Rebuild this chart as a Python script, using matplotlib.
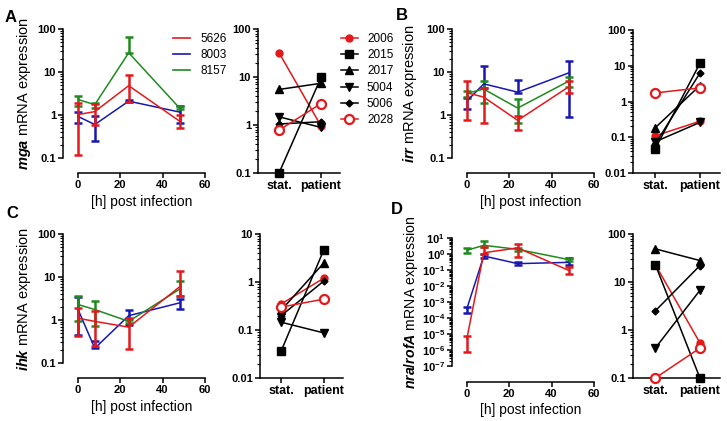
import numpy as np
import matplotlib
matplotlib.use("Agg")
from matplotlib import pyplot as plt
from matplotlib.ticker import LogLocator, FuncFormatter, NullFormatter
from matplotlib.lines import Line2D

plt.rcParams['font.family'] = ['Liberation Sans', 'DejaVu Sans']
plt.rcParams['font.weight'] = 'bold'
plt.rcParams['mathtext.fontset'] = 'custom'
plt.rcParams['mathtext.it'] = 'Liberation Sans:italic'
plt.rcParams['mathtext.rm'] = 'Liberation Sans'
plt.rcParams['mathtext.bf'] = 'Liberation Sans:bold'

# time course data (mean, lower end, upper end of error bar)
hours = [0, 8, 24, 48]
strains = ['5626', '8003', '8157']

mga_5626 = [1.02, 1.2, 4.8, 0.72]
mga_5626_lo = [0.12, 0.6, 2.0, 0.5]
mga_5626_hi = [1.9, 1.8, 8.7, 1.0]
mga_8003 = [0.93, 0.6, 2.1, 1.17]
mga_8003_lo = [0.65, 0.245, 2.0, 0.64]
mga_8003_hi = [1.15, 0.93, 2.2, 1.6]
mga_8157 = [2.3, 1.74, 28, 1.45]
mga_8157_lo = [1.6, 1.45, 27, 1.35]
mga_8157_hi = [2.8, 1.9, 65, 1.6]

irr_5626 = [3.3, 2.6, 0.75, 4.5]
irr_5626_lo = [0.78, 0.65, 0.46, 3.3]
irr_5626_hi = [6.3, 4.2, 0.93, 6.1]
irr_8003 = [2.1, 5.3, 3.4, 9.5]
irr_8003_lo = [1.4, 4.2, 3.3, 0.88]
irr_8003_hi = [2.5, 14, 6.6, 18]
irr_8157 = [3.2, 4.0, 1.45, 6.1]
irr_8157_lo = [2.6, 1.9, 0.65, 4.6]
irr_8157_hi = [3.6, 6.1, 2.4, 7.7]

ihk_5626 = [1.1, 0.93, 0.68, 5.9]
ihk_5626_lo = [0.42, 0.25, 0.21, 3.6]
ihk_5626_hi = [1.9, 1.6, 1.1, 13.5]
ihk_8003 = [1.8, 0.22, 1.26, 2.5]
ihk_8003_lo = [0.46, 0.22, 0.78, 1.8]
ihk_8003_hi = [3.5, 0.32, 1.75, 3.1]
ihk_8157 = [2.3, 1.75, 0.93, 5.2]
ihk_8157_lo = [0.93, 0.72, 0.85, 3.6]
ihk_8157_hi = [3.7, 2.7, 1.0, 7.9]

nra_5626 = [5e-6, 1.2, 2.4, 0.095]
nra_5626_lo = [8e-7, 1.0, 0.65, 0.055]
nra_5626_hi = [7e-6, 2.7, 4.4, 0.15]
nra_8003 = [3.8e-4, 0.75, 0.25, 0.3]
nra_8003_lo = [2e-4, 0.6, 0.21, 0.22]
nra_8003_hi = [5e-4, 1.0, 0.3, 0.6]
nra_8157 = [1.7, 3.5, 1.95, 0.45]
nra_8157_lo = [1.2, 2.7, 1.5, 0.35]
nra_8157_hi = [2.5, 6.5, 2.5, 0.6]

# isolates: stat. vs patient
conditions = ['stat.', 'patient']
isolates = ['2006', '2015', '2017', '5004', '5006', '2028']
mga_iso = {'2006': [32, 0.95], '2015': [0.1, 9.8], '2017': [5.5, 7.4],
           '5004': [1.48, 0.89], '5006': [1.05, 1.17], '2028': [0.78, 2.8]}
irr_iso = {'2006': [0.11, 0.28], '2015': [0.048, 11.7], '2017': [0.185, 2.8],
           '5004': [0.075, 0.26], '5006': [0.066, 6.2], '2028': [1.74, 2.4]}
ihk_iso = {'2006': [0.35, 1.2], '2015': [0.037, 4.7], '2017': [0.26, 2.5],
           '5004': [0.145, 0.087], '5006': [0.2, 1.05], '2028': [0.3, 0.44]}
nra_iso = {'2006': [23, 0.54], '2015': [23, 0.1], '2017': [49, 28],
           '5004': [0.42, 6.7], '5006': [2.5, 22], '2028': [0.1, 0.42]}

RED = '#e3191c'
BLUE = '#1818b0'
GREEN = '#1f8a1f'
strain_colors = [RED, BLUE, GREEN]
iso_style = {
    '2006': dict(color=RED, marker='o', ms=5, mfc=RED, mec=RED),
    '2015': dict(color='black', marker='s', ms=5.5, mfc='black', mec='black'),
    '2017': dict(color='black', marker='^', ms=5.5, mfc='black', mec='black'),
    '5004': dict(color='black', marker='v', ms=5.5, mfc='black', mec='black'),
    '5006': dict(color='black', marker='D', ms=3.5, mfc='black', mec='black'),
    '2028': dict(color=RED, marker='o', ms=6.5, mfc='white', mec=RED, mew=1.6),
}

W, H = 727, 421
fig = plt.figure(figsize=(W / 100, H / 100), dpi=100)


def px_axes(l, t, r, b):
    return fig.add_axes([l / W, 1 - b / H, (r - l) / W, (b - t) / H])


def style_log_y(ax, lo, hi, sci=False):
    ax.set_yscale('log')
    ax.set_ylim(lo, hi)
    ax.yaxis.set_major_locator(LogLocator(base=10, numticks=20))
    ax.yaxis.set_minor_locator(LogLocator(base=10, subs=np.arange(2, 10), numticks=20))
    ax.yaxis.set_minor_formatter(NullFormatter())
    if sci:
        ax.yaxis.set_major_formatter(FuncFormatter(
            lambda v, p: r'$\mathbf{10^{%d}}$' % round(np.log10(v))))
    else:
        ax.yaxis.set_major_formatter(FuncFormatter(lambda v, p: '%g' % v))
    for s in ['top', 'right']:
        ax.spines[s].set_visible(False)
    for s in ['left', 'bottom']:
        ax.spines[s].set_linewidth(1.1)
    ax.tick_params(axis='both', which='major', length=3.5, width=1.1, labelsize=8, pad=1.5)
    ax.tick_params(axis='y', which='minor', length=2, width=0.8)


def time_panel(ax, series, ylabel, lo, hi, outward, ylab_x, sci=False, ylab_size=10.5):
    order = [1, 2, 0]
    for i in order:
        mean, low, high = [np.array(a, dtype=float) for a in series[i]]
        ax.errorbar(hours, mean, yerr=[mean - low, high - mean], color=strain_colors[i],
                    lw=1.1, elinewidth=1.8, capsize=2.8, capthick=1.8, zorder=3 + (i == 0))
    style_log_y(ax, lo, hi, sci)
    ax.set_xlim(-7, 60)
    ax.set_xticks([0, 20, 40, 60])
    ax.spines['bottom'].set_bounds(0, 60)
    ax.spines['bottom'].set_position(('outward', outward))
    ax.set_xlabel('[h] post infection', fontsize=10, fontweight='normal')
    ax.xaxis.set_label_coords(0.553, -0.20 - outward / 130)
    ax.set_ylabel(ylabel, fontsize=ylab_size, fontweight='normal')
    ax.yaxis.set_label_coords(ylab_x, 0.5)


def iso_panel(ax, data, lo, hi):
    for name in isolates:
        st = iso_style[name]
        ax.plot([0, 1], data[name], lw=1.1, clip_on=False, zorder=3,
                **st)
    style_log_y(ax, lo, hi)
    ax.set_xlim(-0.5, 1.45)
    ax.set_xticks([0, 1])
    ax.set_xticklabels(conditions)
    ax.tick_params(axis='x', labelsize=9)


axA1 = px_axes(63, 29, 205, 158)
time_panel(axA1, [(mga_5626, mga_5626_lo, mga_5626_hi),
                  (mga_8003, mga_8003_lo, mga_8003_hi),
                  (mga_8157, mga_8157_lo, mga_8157_hi)],
           r'$\it{mga}$ mRNA expression', 0.1, 100, 10.8, -0.21)
axA2 = px_axes(258, 29, 340, 173)
iso_panel(axA2, mga_iso, 0.1, 100)

axB1 = px_axes(452, 29, 594, 158)
time_panel(axB1, [(irr_5626, irr_5626_lo, irr_5626_hi),
                  (irr_8003, irr_8003_lo, irr_8003_hi),
                  (irr_8157, irr_8157_lo, irr_8157_hi)],
           r'$\it{irr}$ mRNA expression', 0.1, 100, 10.8, -0.235)
axB2 = px_axes(633, 30, 720, 173)
iso_panel(axB2, irr_iso, 0.01, 100)

axC1 = px_axes(63, 234, 205, 363)
time_panel(axC1, [(ihk_5626, ihk_5626_lo, ihk_5626_hi),
                  (ihk_8003, ihk_8003_lo, ihk_8003_hi),
                  (ihk_8157, ihk_8157_lo, ihk_8157_hi)],
           r'$\it{ihk}$ mRNA expression', 0.1, 100, 10.8, -0.21)
axC2 = px_axes(260, 234, 343, 378)
iso_panel(axC2, ihk_iso, 0.01, 10)

axD1 = px_axes(452, 238, 594, 366)
time_panel(axD1, [(nra_5626, nra_5626_lo, nra_5626_hi),
                  (nra_8003, nra_8003_lo, nra_8003_hi),
                  (nra_8157, nra_8157_lo, nra_8157_hi)],
           r'$\it{nra/rofA}$ mRNA expression', 1e-7, 10, 11.5, -0.225, sci=True,
           ylab_size=10.2)
axD2 = px_axes(633, 234, 720, 378)
iso_panel(axD2, nra_iso, 0.1, 100)

# legends
h1 = [Line2D([], [], color=c, lw=1.2) for c in strain_colors]
fig.legend(h1, strains, loc='upper left', bbox_to_anchor=(173 / W, 1 - 33 / H),
           frameon=False, prop={'weight': 'normal', 'size': 8.5}, handlelength=1.4,
           handletextpad=0.9, labelspacing=0.36, borderpad=0, borderaxespad=0)
h2 = [Line2D([], [], lw=1.1, **iso_style[n]) for n in isolates]
fig.legend(h2, isolates, loc='upper left', bbox_to_anchor=(341 / W, 1 - 33 / H),
           frameon=False, prop={'weight': 'normal', 'size': 8.5}, handlelength=1.4,
           handletextpad=0.8, labelspacing=0.36, borderpad=0, borderaxespad=0)

# panel letters
for letter, x, y in [('A', 11, 17), ('B', 402, 16), ('C', 12, 214), ('D', 397, 210)]:
    fig.text(x / W, 1 - y / H, letter, fontsize=12, fontweight='bold', ha='center', va='center')

plt.savefig('out.png', dpi=100)
